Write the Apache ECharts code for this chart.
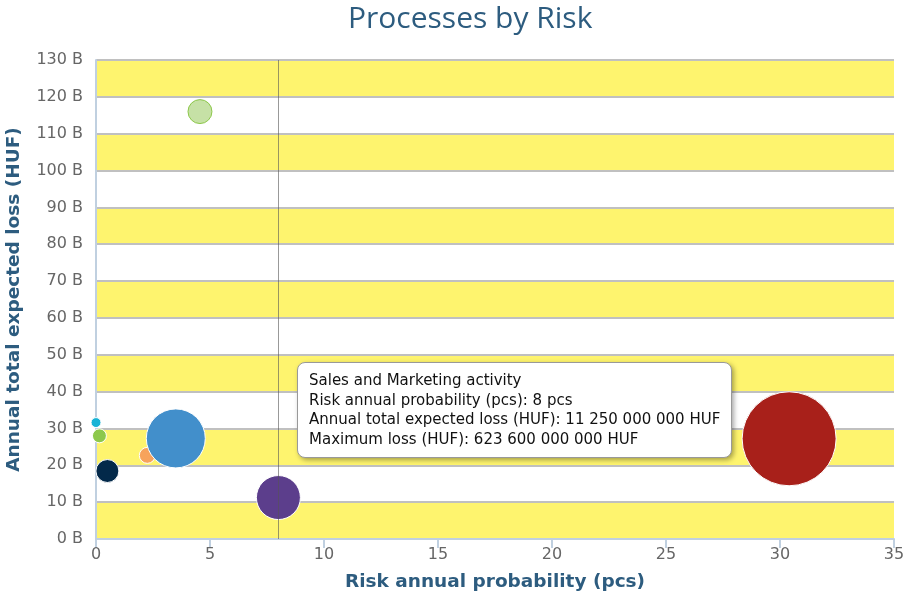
<!DOCTYPE html>
<html>
<head>
<meta charset="utf-8">
<title>Processes by Risk</title>
<script src="https://cdn.jsdelivr.net/npm/echarts@6/dist/echarts.min.js"></script>
<style>
    html, body { margin: 0; padding: 0; background: #fff; }
    #main { width: 907px; height: 593px; }
</style>
</head>
<body>
<div id="main"></div>
<script>
// 数据
var processNames = ['Process 1', 'Process 2', 'Process 3', 'Process 4', 'Process 5',
    'Sales and Marketing activity', 'Process 7', 'Process 8'];
var probability = [0.0, 0.15, 2.25, 3.5, 0.5, 8, 4.56, 30.4];          // pcs
var expectedLoss = [31.6, 28.0, 22.7, 27.3, 18.45, 11.25, 116.0, 27.2];   // milliárd HUF
var maxLoss = [32, 63, 82, 1121, 170, 623.6, 185, 2846];                  // milliárd HUF
var colors = ['#17b3d6', '#8dc84b', '#f7a35c', '#428fcb', '#03294a', '#5c3e8c', '#c6e1a6', '#a8201a'];
var borderColors = ['#ffffff', '#ffffff', '#ffffff', '#ffffff', '#ffffff', '#ffffff', '#8dc84b', '#ffffff'];
var yTicks = { min: 0, max: 130, step: 10 };
var xTicks = { min: 0, max: 35, step: 5 };
var tipIndex = 5;

// 数字格式：11 250 000 000
function fmt(n) {
    return String(Math.round(n)).replace(/\B(?=(\d{3})+(?!\d))/g, ' ');
}

var chart = echarts.init(document.getElementById('main'));

var points = [];
for (var i = 0; i < processNames.length; i++) {
    points.push({
        name: processNames[i],
        value: [probability[i], expectedLoss[i], maxLoss[i]],
        itemStyle: { color: colors[i], borderColor: borderColors[i], borderWidth: 1, opacity: 1 }
    });
}

var option = {
    animation: false,
    textStyle: { fontFamily: 'DejaVu Sans' },
    title: {
        text: 'Processes by Risk',
        left: 343,
        top: -1,
        textStyle: { fontFamily: 'Open Sans', fontSize: 30, fontWeight: 'normal', color: '#2d5c7f' }
    },
    grid: { left: 96, right: 13, top: 60, bottom: 54, containLabel: false, outerBoundsMode: 'none' },
    tooltip: {
        trigger: 'item',
        triggerOn: 'none',
        alwaysShowContent: true,
        transitionDuration: 0,
        position: [297, 362],
        backgroundColor: '#ffffff',
        borderColor: '#999999',
        borderWidth: 1,
        borderRadius: 8,
        padding: [8, 11],
        extraCssText: 'box-shadow: 2px 2px 5px rgba(0,0,0,0.35); line-height: 19.5px;',
        textStyle: { fontFamily: 'DejaVu Sans', fontSize: 15, color: '#111' },
        formatter: function (p) {
            return p.name + '<br>' +
                'Risk annual probability (pcs): ' + p.value[0] + ' pcs<br>' +
                'Annual total expected loss (HUF): ' + fmt(p.value[1] * 1e9) + ' HUF<br>' +
                'Maximum loss (HUF): ' + fmt(p.value[2] * 1e9) + ' HUF';
        }
    },
    xAxis: {
        type: 'value',
        min: xTicks.min,
        max: xTicks.max,
        interval: xTicks.step,
        name: 'Risk annual probability (pcs)',
        nameLocation: 'middle',
        nameGap: 34,
        nameTextStyle: { fontSize: 18.5, fontWeight: 'bold', color: '#2d5c7f' },
        axisLine: { show: true, onZero: false, lineStyle: { color: '#c0d0e0', width: 2 } },
        axisTick: { show: true, inside: false, length: 9, lineStyle: { color: '#c0d0e0', width: 2 } },
        axisLabel: { fontSize: 16, color: '#666', margin: 8 },
        splitLine: { show: false }
    },
    yAxis: {
        type: 'value',
        min: yTicks.min,
        max: yTicks.max,
        interval: yTicks.step,
        name: 'Annual total expected loss (HUF)',
        nameLocation: 'middle',
        nameGap: 72,
        nameTextStyle: { fontSize: 18.5, fontWeight: 'bold', color: '#2d5c7f' },
        axisLine: { show: true, lineStyle: { color: '#c0d0e0', width: 2 } },
        axisTick: { show: false },
        axisLabel: {
            fontSize: 16, color: '#666', margin: 13,
            formatter: function (v) { return v + ' B'; }
        },
        splitLine: { show: true, lineStyle: { color: '#c0c0c0', width: 2 } },
        splitArea: { show: true, areaStyle: { color: ['#fef46e', '#ffffff'], opacity: 1 } }
    },
    series: [{
        type: 'scatter',
        data: points,
        symbolSize: function (v) {
            return 44 * Math.sqrt(v[2] / 623.6);
        },
        emphasis: { disabled: true },
        markLine: {
            silent: true,
            symbol: 'none',
            label: { show: false },
            lineStyle: { color: '#555', width: 1, type: 'solid', opacity: 0.6 },
            data: [{ xAxis: probability[tipIndex] }]
        }
    }]
};

chart.setOption(option);
chart.dispatchAction({ type: 'showTip', seriesIndex: 0, dataIndex: tipIndex });
</script>
</body>
</html>
